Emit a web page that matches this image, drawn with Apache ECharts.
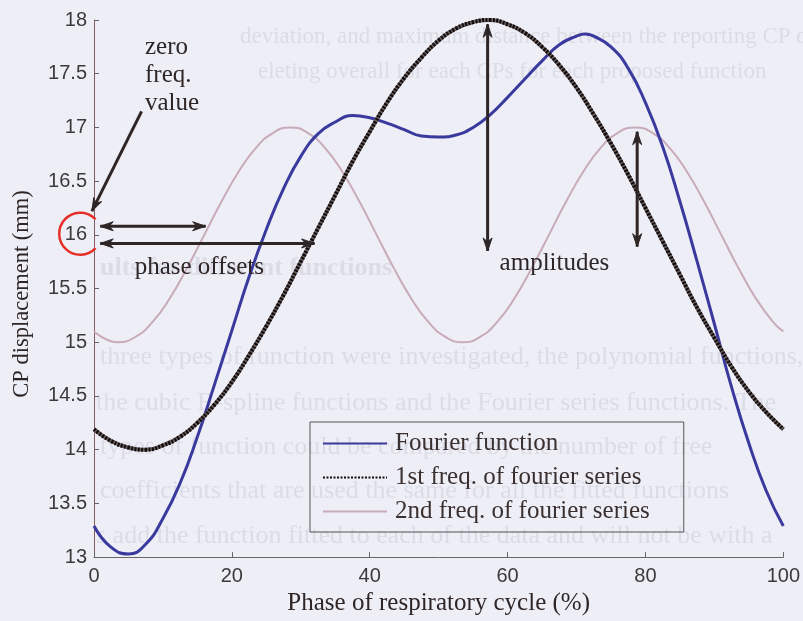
<!DOCTYPE html>
<html>
<head>
<meta charset="utf-8">
<script src="https://cdn.jsdelivr.net/npm/echarts@6/dist/echarts.min.js"></script>
<style>
  html, body { margin: 0; padding: 0; background: #eeeef7; }
  #chart { width: 803px; height: 621px; }
</style>
</head>
<body>
<div id="chart"></div>
<script>
// Phase of the respiratory cycle (%) at which each curve is sampled
const phaseFourier = [0, 2.5, 5, 7.5, 10, 12.5, 15, 17.5, 20, 22.5, 25, 27.5, 30, 32.5, 35, 37.5, 40,
  42.5, 45, 47.5, 50, 52.5, 55, 57.5, 60, 62.5, 65, 67.5, 70, 71.25, 72.5, 75, 77.5, 80, 82.5, 85,
  87.5, 90, 92.5, 95, 97.5, 100];
const phaseFirst = [0, 2.5, 5, 7.5, 10, 12.5, 15, 17.5, 20, 22.5, 25, 27.5, 30, 32.5, 35, 37.5, 40,
  42.5, 45, 47.5, 50, 52.5, 55, 57.5, 60, 62.5, 65, 67.5, 70, 72.5, 75, 77.5, 80, 82.5, 85,
  87.5, 90, 92.5, 95, 97.5, 100];
const phaseSecond = [0, 3.5, 6, 8.5, 11, 13.5, 16, 18.5, 21, 23.5, 26, 28.5, 31, 33.5, 36, 38.5,
  41, 43.5, 46, 48.5, 51, 53.5, 56, 58.5, 61, 63.5, 66, 68.5, 71, 73.5, 76, 78.5, 81, 83.5, 86,
  88.5, 91, 93.5, 96, 98.5, 100];

// CP displacement (mm) of the full Fourier function
const fourierFunction = [13.29, 13.09, 13.03, 13.12, 13.36, 13.69, 14.12, 14.61, 15.11, 15.61,
  16.05, 16.43, 16.73, 16.94, 17.05, 17.11, 17.09, 17.04, 16.98, 16.92, 16.91, 16.93, 17.00,
  17.12, 17.28, 17.45, 17.62, 17.77, 17.85, 17.87, 17.85, 17.75, 17.55, 17.23, 16.82, 16.31,
  15.75, 15.17, 14.58, 14.06, 13.62, 13.29];

// 1st frequency term of the Fourier series (with zero-frequency value)
const firstFreq = [14.19, 14.08, 14.02, 14.00, 14.04, 14.12, 14.25, 14.42, 14.63, 14.88, 15.15,
  15.44, 15.75, 16.06, 16.37, 16.68, 16.96, 17.23, 17.46, 17.65, 17.81, 17.92, 17.98, 18.00,
  17.96, 17.88, 17.75, 17.58, 17.37, 17.12, 16.85, 16.56, 16.25, 15.94, 15.63, 15.32, 15.04,
  14.77, 14.54, 14.35, 14.19];

// 2nd frequency term of the Fourier series (with zero-frequency value)
const secondFreq = [15.10, 15.00, 15.05, 15.19, 15.41, 15.69, 16.00, 16.31, 16.59, 16.81, 16.95,
  17.00, 16.95, 16.81, 16.59, 16.31, 16.00, 15.69, 15.41, 15.19, 15.05, 15.00, 15.05, 15.19,
  15.41, 15.69, 16.00, 16.31, 16.59, 16.81, 16.95, 17.00, 16.95, 16.81, 16.59, 16.31, 16.00,
  15.69, 15.41, 15.19, 15.10];

const seriesNames = ['Fourier function', '1st freq. of fourier series', '2nd freq. of fourier series'];
const xTicks = [0, 20, 40, 60, 80, 100];
const yTicks = [13, 13.5, 14, 14.5, 15, 15.5, 16, 16.5, 17, 17.5, 18];

// Faint show-through lines of the printed page behind the figure
const pageLines = [
  { text: 'deviation, and maximum distance between the reporting CP di', x: 240, y: 37, size: 23, bold: false },
  { text: 'eleting overall for each CPs for each proposed function', x: 258, y: 72, size: 23, bold: false },
  { text: 'ults for different functions', x: 100, y: 268, size: 26, bold: true },
  { text: 'three types of function were investigated, the polynomial functions,', x: 100, y: 357, size: 26, bold: false },
  { text: 'the cubic B-spline functions and the Fourier series functions. The', x: 96, y: 403, size: 26, bold: false },
  { text: 'types of function could be compared by the number of free', x: 100, y: 447, size: 26, bold: false },
  { text: 'coefficients that are used the same for all the fitted functions', x: 100, y: 491, size: 26, bold: false },
  { text: 's add the function fitted to each of the data and will not be with a', x: 96, y: 536, size: 26, bold: false }
];

const pair = (xs, ys) => xs.map((x, i) => [x, ys[i]]);

const serif = 'Liberation Serif';
const sans = 'Liberation Sans';
const ink = '#2e2626';

const chart = echarts.init(document.getElementById('chart'), null, { renderer: 'canvas' });

const option = {
  backgroundColor: '#eeeef7',
  animation: false,
  grid: { left: 94, right: 19, top: 20, bottom: 61, containLabel: false },
  legend: {
    data: seriesNames,
    orient: 'vertical',
    left: 310,
    top: 422,
    padding: [9, 34, 8, 12],
    itemWidth: 64,
    itemHeight: 14,
    itemGap: 9,
    borderColor: '#555',
    borderWidth: 1,
    backgroundColor: 'transparent',
    itemStyle: { opacity: 0 },
    textStyle: { fontFamily: serif, fontSize: 25, lineHeight: 25, color: '#3a3030', padding: [0, 0, 0, 3] }
  },
  xAxis: {
    type: 'value', min: 0, max: 100, interval: 20,
    name: 'Phase of respiratory cycle (%)',
    nameLocation: 'middle', nameGap: 27,
    nameTextStyle: { fontFamily: serif, fontSize: 25, color: ink },
    axisLine: { show: true, lineStyle: { color: '#666', width: 1 } },
    axisTick: { show: true, inside: true, length: 5, lineStyle: { color: '#666' } },
    axisLabel: { fontFamily: sans, fontSize: 20, color: '#3a3a3a', margin: 9, customValues: xTicks },
    splitLine: { show: false }
  },
  yAxis: {
    type: 'value', min: 13, max: 18, interval: 0.5,
    axisLine: { show: true, lineStyle: { color: '#8a5a5a', width: 1 } },
    axisTick: { show: true, inside: true, length: 5, lineStyle: { color: '#666' } },
    axisLabel: { fontFamily: sans, fontSize: 20, color: '#3a3a3a', margin: 7, customValues: yTicks },
    splitLine: { show: false }
  },
  series: [
    {
      name: seriesNames[2], type: 'line', data: pair(phaseSecond, secondFreq), smooth: true,
      symbol: 'none', z: 2,
      lineStyle: { color: '#c9aab9', width: 2 }, itemStyle: { color: '#c9aab9' }
    },
    {
      name: seriesNames[0], type: 'line', data: pair(phaseFourier, fourierFunction), smooth: true,
      symbol: 'none', z: 3,
      lineStyle: { color: '#3a3a9e', width: 3 }, itemStyle: { color: '#3a3a9e' }
    },
    {
      // solid underlay that gives the dotted curve its grey body
      name: 'firstFreqBody', type: 'line', data: pair(phaseFirst, firstFreq), smooth: true,
      symbol: 'none', z: 4, silent: true,
      lineStyle: { color: '#6a5e5e', width: 4 }
    },
    {
      name: seriesNames[1], type: 'line', data: pair(phaseFirst, firstFreq), smooth: true,
      symbol: 'none', z: 5,
      lineStyle: { color: '#120c0c', width: 4, type: [2, 1.5] }, itemStyle: { color: '#120c0c' }
    }
  ]
};

chart.setOption(option);

// ---- annotations placed in data coordinates ----
const px = (x, y) => chart.convertToPixel({ gridIndex: 0 }, [x, y]);

function arrowHead(tip, from, color) {
  const dx = tip[0] - from[0], dy = tip[1] - from[1];
  const len = Math.hypot(dx, dy);
  const ux = dx / len, uy = dy / len;
  const L = 13, W = 4.5, N = 9;
  const bx = tip[0] - ux * L, by = tip[1] - uy * L;
  const nx = tip[0] - ux * N, ny = tip[1] - uy * N;
  return {
    type: 'polygon', z: 101,
    shape: { points: [tip, [bx - uy * W, by + ux * W], [nx, ny], [bx + uy * W, by - ux * W]] },
    style: { fill: color, stroke: color, lineWidth: 1 }
  };
}

function arrow(a, b, opts) {
  const color = opts.color || '#2e2626';
  const els = [{
    type: 'line', z: 100,
    shape: { x1: a[0], y1: a[1], x2: b[0], y2: b[1] },
    style: { stroke: color, lineWidth: opts.width || 3 }
  }];
  els.push(arrowHead(b, a, color));
  if (opts.both) els.push(arrowHead(a, b, color));
  return els;
}

function label(text, x, y, align) {
  const p = px(x, y);
  return {
    type: 'text', z: 100, x: p[0], y: p[1],
    style: { text: text, font: '25px "' + serif + '"', fill: ink, align: align || 'left', verticalAlign: 'middle' }
  };
}

const elements = [];

// show-through text of the page
pageLines.forEach((l) => {
  elements.push({
    type: 'text', z: -10, x: l.x, y: l.y, silent: true,
    style: {
      text: l.text,
      font: (l.bold ? 'bold ' : '') + l.size + 'px "' + serif + '"',
      fill: '#dcdce6', verticalAlign: 'middle'
    }
  });
});

// y axis title
const yMid = px(0, 15.45);
elements.push({
  type: 'text', z: 100, x: 22, y: yMid[1], rotation: Math.PI / 2,
  style: { text: 'CP displacement (mm)', font: '22.5px "' + serif + '"', fill: ink, align: 'center', verticalAlign: 'middle' }
});

// zero frequency value marker
const circleC = px(-2.0, 16.01);
elements.push({
  type: 'arc', z: 100,
  shape: { cx: circleC[0], cy: circleC[1], r: 21, startAngle: 0.75, endAngle: Math.PI * 2 - 0.75, clockwise: true },
  style: { stroke: '#e5302a', lineWidth: 2.5, fill: null }
});
elements.push(...arrow(px(6.9, 17.15), px(-0.3, 16.22), { width: 3 }));
elements.push(label('zero', 7.4, 17.74));
elements.push(label('freq.', 7.4, 17.48));
elements.push(label('value', 7.4, 17.22));

// phase offsets
elements.push(...arrow(px(0.9, 16.08), px(16.2, 16.08), { both: true, width: 3 }));
elements.push(...arrow(px(0.9, 15.92), px(32.0, 15.92), { both: true, width: 3 }));
elements.push(label('phase offsets', 5.9, 15.70));

// amplitudes
elements.push(...arrow(px(57.1, 15.85), px(57.1, 17.96), { both: true, width: 3 }));
elements.push(...arrow(px(78.8, 15.89), px(78.8, 16.96), { both: true, width: 3 }));
elements.push(label('amplitudes', 66.8, 15.73, 'center'));

chart.setOption({ graphic: { elements: elements } });
</script>
</body>
</html>
